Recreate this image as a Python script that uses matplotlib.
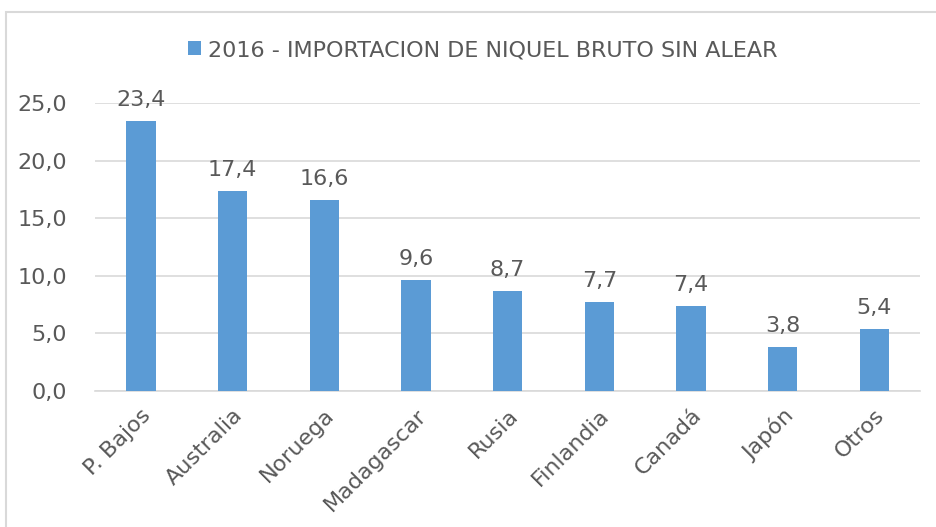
import matplotlib
matplotlib.use("Agg")
import matplotlib.pyplot as plt
from matplotlib.patches import Rectangle

paises = ["P. Bajos", "Australia", "Noruega", "Madagascar", "Rusia",
          "Finlandia", "Canadá", "Japón", "Otros"]
valores = [23.4, 17.4, 16.6, 9.6, 8.7, 7.7, 7.4, 3.8, 5.4]
yticks = [0, 5, 10, 15, 20, 25]
serie = "2016 - IMPORTACION DE NIQUEL BRUTO SIN ALEAR"

AZUL = "#5B9BD5"
GRIS = "#595959"

plt.rcParams["font.family"] = ["DejaVu Sans"]

fig = plt.figure(figsize=(9.37, 5.27), dpi=100)
ax = fig.add_axes([0.1014, 0.258, 0.8806, 0.5466])

x = range(len(paises))
ax.bar(x, valores, width=0.32, color=AZUL, label=serie, zorder=3)
for xi, v in zip(x, valores):
    ax.text(xi, v + 0.95, f"{v:.1f}".replace(".", ","), ha="center", va="bottom",
            fontsize=16, color=GRIS)

ax.set_xlim(-0.5, len(paises) - 0.5)
ax.set_ylim(0, 25)
ax.set_yticks(yticks)
ax.set_yticklabels([f"{t:.1f}".replace(".", ",") for t in yticks], fontsize=16, color=GRIS)
ax.set_xticks(list(x))
ax.set_xticklabels(paises, rotation=45, ha="right", rotation_mode="anchor",
                   fontsize=16, color=GRIS)
ax.tick_params(length=0)
ax.tick_params(axis="y", pad=20)
ax.tick_params(axis="x", pad=10)
ax.yaxis.grid(True, color="#D9D9D9", lw=1.2, zorder=0)
for s in ["top", "right", "left"]:
    ax.spines[s].set_visible(False)
ax.spines["bottom"].set_color("#D9D9D9")
ax.spines["bottom"].set_linewidth(1.2)

fig.legend(loc="center", bbox_to_anchor=(0.515, 0.905), frameon=False,
           fontsize=16, handlelength=0.6, handleheight=0.6, handletextpad=0.3,
           labelcolor=GRIS)

# borde del grafico
fig.patches.append(Rectangle((6 / 937, -0.05), 1.0, 1 - 12 / 527 + 0.05,
                             transform=fig.transFigure, fill=False,
                             edgecolor="#D9D9D9", lw=1.5))

fig.savefig("out.png", dpi=100)
